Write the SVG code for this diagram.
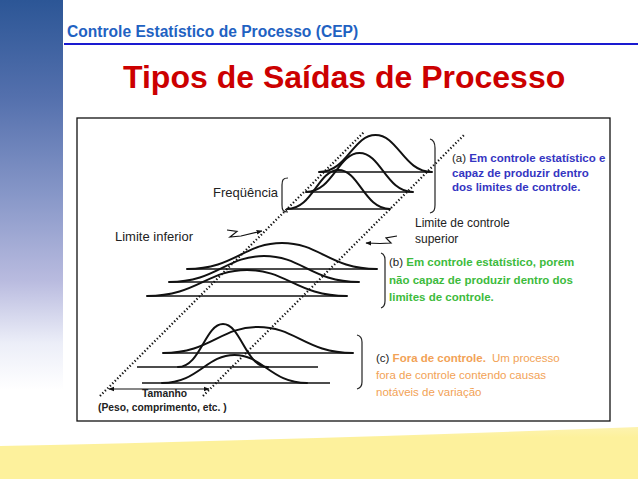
<svg xmlns="http://www.w3.org/2000/svg" width="638" height="479" viewBox="0 0 638 479">
  <style>
    .sans { font-family: "Liberation Sans", Arial, sans-serif; }
    .curve { fill: none; stroke: #111; stroke-width: 2; stroke-linecap: round; }
    .base { fill: none; stroke: #111; stroke-width: 1.6; }
    .brace { fill: none; stroke: #222; stroke-width: 1.2; }
    .dots { fill: none; stroke: #111; stroke-width: 2.2; stroke-dasharray: 1.3 2.2; }
    .ptr { fill: none; stroke: #111; stroke-width: 1.2; }
    .lbl { font-size: 13px; fill: #222; }
    .small { font-size: 12px; fill: #222; }
    .desc { font-size: 11.5px; fill: #222; }
    .blue { fill: #3535c2; font-weight: bold; }
    .green { fill: #3dbb3d; font-weight: bold; }
    .orange { fill: #f2a256; }
    .axis { font-size: 10.3px; font-weight: bold; fill: #222; }
  </style>
  <defs>
    <linearGradient id="sidebar" x1="0" y1="0" x2="0" y2="1">
      <stop offset="0" stop-color="#2c5696"/>
      <stop offset="0.25" stop-color="#5470ad"/>
      <stop offset="0.5" stop-color="#8797c8"/>
      <stop offset="0.72" stop-color="#b9bbdf"/>
      <stop offset="0.88" stop-color="#eceef8"/>
      <stop offset="1" stop-color="#ffffff"/>
    </linearGradient>
    <linearGradient id="band" x1="0" y1="0" x2="0" y2="1">
      <stop offset="0" stop-color="#fdf3b0"/>
      <stop offset="0.2" stop-color="#fdf19c"/>
      <stop offset="1" stop-color="#fdf19c"/>
    </linearGradient>
    <marker id="tip" viewBox="0 0 10 10" refX="9" refY="5" markerWidth="6" markerHeight="6" orient="auto-start-reverse" markerUnits="userSpaceOnUse">
      <path d="M0,1 L10,5 L0,9 Z" fill="#111"/>
    </marker>
  </defs>

  <!-- page background -->
  <rect x="0" y="0" width="638" height="479" fill="#ffffff"/>
  <rect x="0" y="0" width="63" height="390" fill="url(#sidebar)"/>
  <path d="M0,446 Q300,440 638,427 L638,479 L0,479 Z" fill="url(#band)"/>

  <!-- header -->
  <g id="header">
    <text class="sans" x="67" y="37" font-size="15.6" font-weight="bold" fill="#1f62c2">Controle Estatístico de Processo (CEP)</text>
    <line x1="64" y1="44" x2="638" y2="44" stroke="#1a1ad0" stroke-width="2"/>
  </g>
  <g id="title">
    <text class="sans" x="123" y="88" font-size="32" font-weight="bold" fill="#cc0000">Tipos de Saídas de Processo</text>
  </g>

  <!-- frame -->
  <g id="frame">
    <rect x="77" y="118" width="533" height="303" fill="#ffffff" stroke="#111" stroke-width="1.3"/>
  </g>

  <!-- control limits and pointers -->
  <g id="connectors">
    <line class="dots" x1="100" y1="396" x2="364" y2="132"/>
    <line class="dots" x1="203" y1="396" x2="464" y2="135"/>
    <path class="ptr" d="M227,230 L237,231.5 L230,237 L241,236 L262,231" marker-end="url(#tip)"/>
    <path class="ptr" d="M397,236 L386,238 L391,243 L380,243.5 L366,243" marker-end="url(#tip)"/>
    <line class="ptr" x1="109" y1="389" x2="209" y2="389" marker-start="url(#tip)" marker-end="url(#tip)"/>
  </g>

  <!-- (a) in control, capable -->
  <g id="dist-a">
    <line class="base" x1="287" y1="209" x2="390" y2="209"/>
    <line class="base" x1="306" y1="192" x2="413" y2="192"/>
    <line class="base" x1="319" y1="172" x2="432" y2="172"/>
    <path class="curve" d="M287,209 C312.75,209 317.9,170 338.5,170 C359.1,170 364.25,209 390,209"/>
    <path class="curve" d="M306,192 C332.75,192 338.1,153 359.5,153 C380.9,153 386.25,192 413,192"/>
    <path class="curve" d="M319,172 C347.25,172 352.9,135 375.5,135 C398.1,135 403.75,172 432,172"/>
    <path class="brace" d="M288,178 C283,178 282,180 282,185 L282,205 C282,210 283,212 288,212"/>
    <path class="brace" d="M430,139 C434,140 435,143 435,148 L435,205 C435,210 434,212 430,213"/>
  </g>

  <!-- (b) in control, not capable -->
  <g id="dist-b">
    <line class="base" x1="187" y1="269" x2="377" y2="269"/>
    <line class="base" x1="169" y1="282" x2="359" y2="282"/>
    <line class="base" x1="147" y1="296" x2="347" y2="296"/>
    <path class="curve" d="M187,269 C234.5,269 244,243 282,243 C320,243 329.5,269 377,269"/>
    <path class="curve" d="M169,282 C216.5,282 226,256 264,256 C302,256 311.5,282 359,282"/>
    <path class="curve" d="M147,296 C197,296 207,270 247,270 C287,270 297,296 347,296"/>
    <path class="brace" d="M381,253 C384,254 385,256 385,260 L385,301 C385,305 384,307 381,308"/>
  </g>

  <!-- (c) out of control -->
  <g id="dist-c">
    <line class="base" x1="163" y1="353" x2="353" y2="353"/>
    <line class="base" x1="137" y1="367" x2="318" y2="367"/>
    <line class="base" x1="142" y1="383" x2="330" y2="383"/>
    <path class="curve" d="M163,353 C210.5,353 220,327 258,327 C296,327 305.5,353 353,353"/>
    <path class="curve" d="M178,367 C200.5,367 205,324 223,324 C241,324 245.5,367 268,367"/>
    <path class="curve" d="M162,383 C198.25,383 206,355 234.5,355 C263,355 270.75,383 307,383"/>
    <path class="brace" d="M357,335 C361,336 362,338 362,342 L362,382 C362,386 361,388 357,389"/>
  </g>

  <!-- labels -->
  <g id="label-freq">
    <text class="sans lbl" x="213" y="197">Freqüência</text>
  </g>
  <g id="label-lower">
    <text class="sans lbl" x="115" y="241">Limite inferior</text>
  </g>
  <g id="label-upper">
    <text class="sans small" x="415" y="227">Limite de controle</text>
    <text class="sans small" x="415" y="243">superior</text>
  </g>
  <g id="text-a">
    <text class="sans desc" x="452" y="162">(a) <tspan class="blue">Em controle estatístico e</tspan></text>
    <text class="sans desc blue" x="452" y="177">capaz de produzir dentro</text>
    <text class="sans desc blue" x="452" y="191">dos limites de controle.</text>
  </g>
  <g id="text-b">
    <text class="sans desc" x="389" y="266">(b) <tspan class="green">Em controle estatístico, porem</tspan></text>
    <text class="sans desc green" x="389" y="284">não capaz de produzir dentro dos</text>
    <text class="sans desc green" x="389" y="301">limites de controle.</text>
  </g>
  <g id="text-c">
    <text class="sans desc" x="376" y="362">(c) <tspan class="orange" font-weight="bold">Fora de controle.</tspan><tspan class="orange" dx="6">Um processo</tspan></text>
    <text class="sans desc orange" x="376" y="379" font-size="12">fora de controle contendo causas</text>
    <text class="sans desc orange" x="376" y="396" font-size="12">notáveis de variação</text>
  </g>
  <g id="label-size">
    <text class="sans axis" x="142" y="397">Tamanho</text>
    <text class="sans axis" x="98" y="411">(Peso, comprimento, etc. )</text>
  </g>
</svg>
